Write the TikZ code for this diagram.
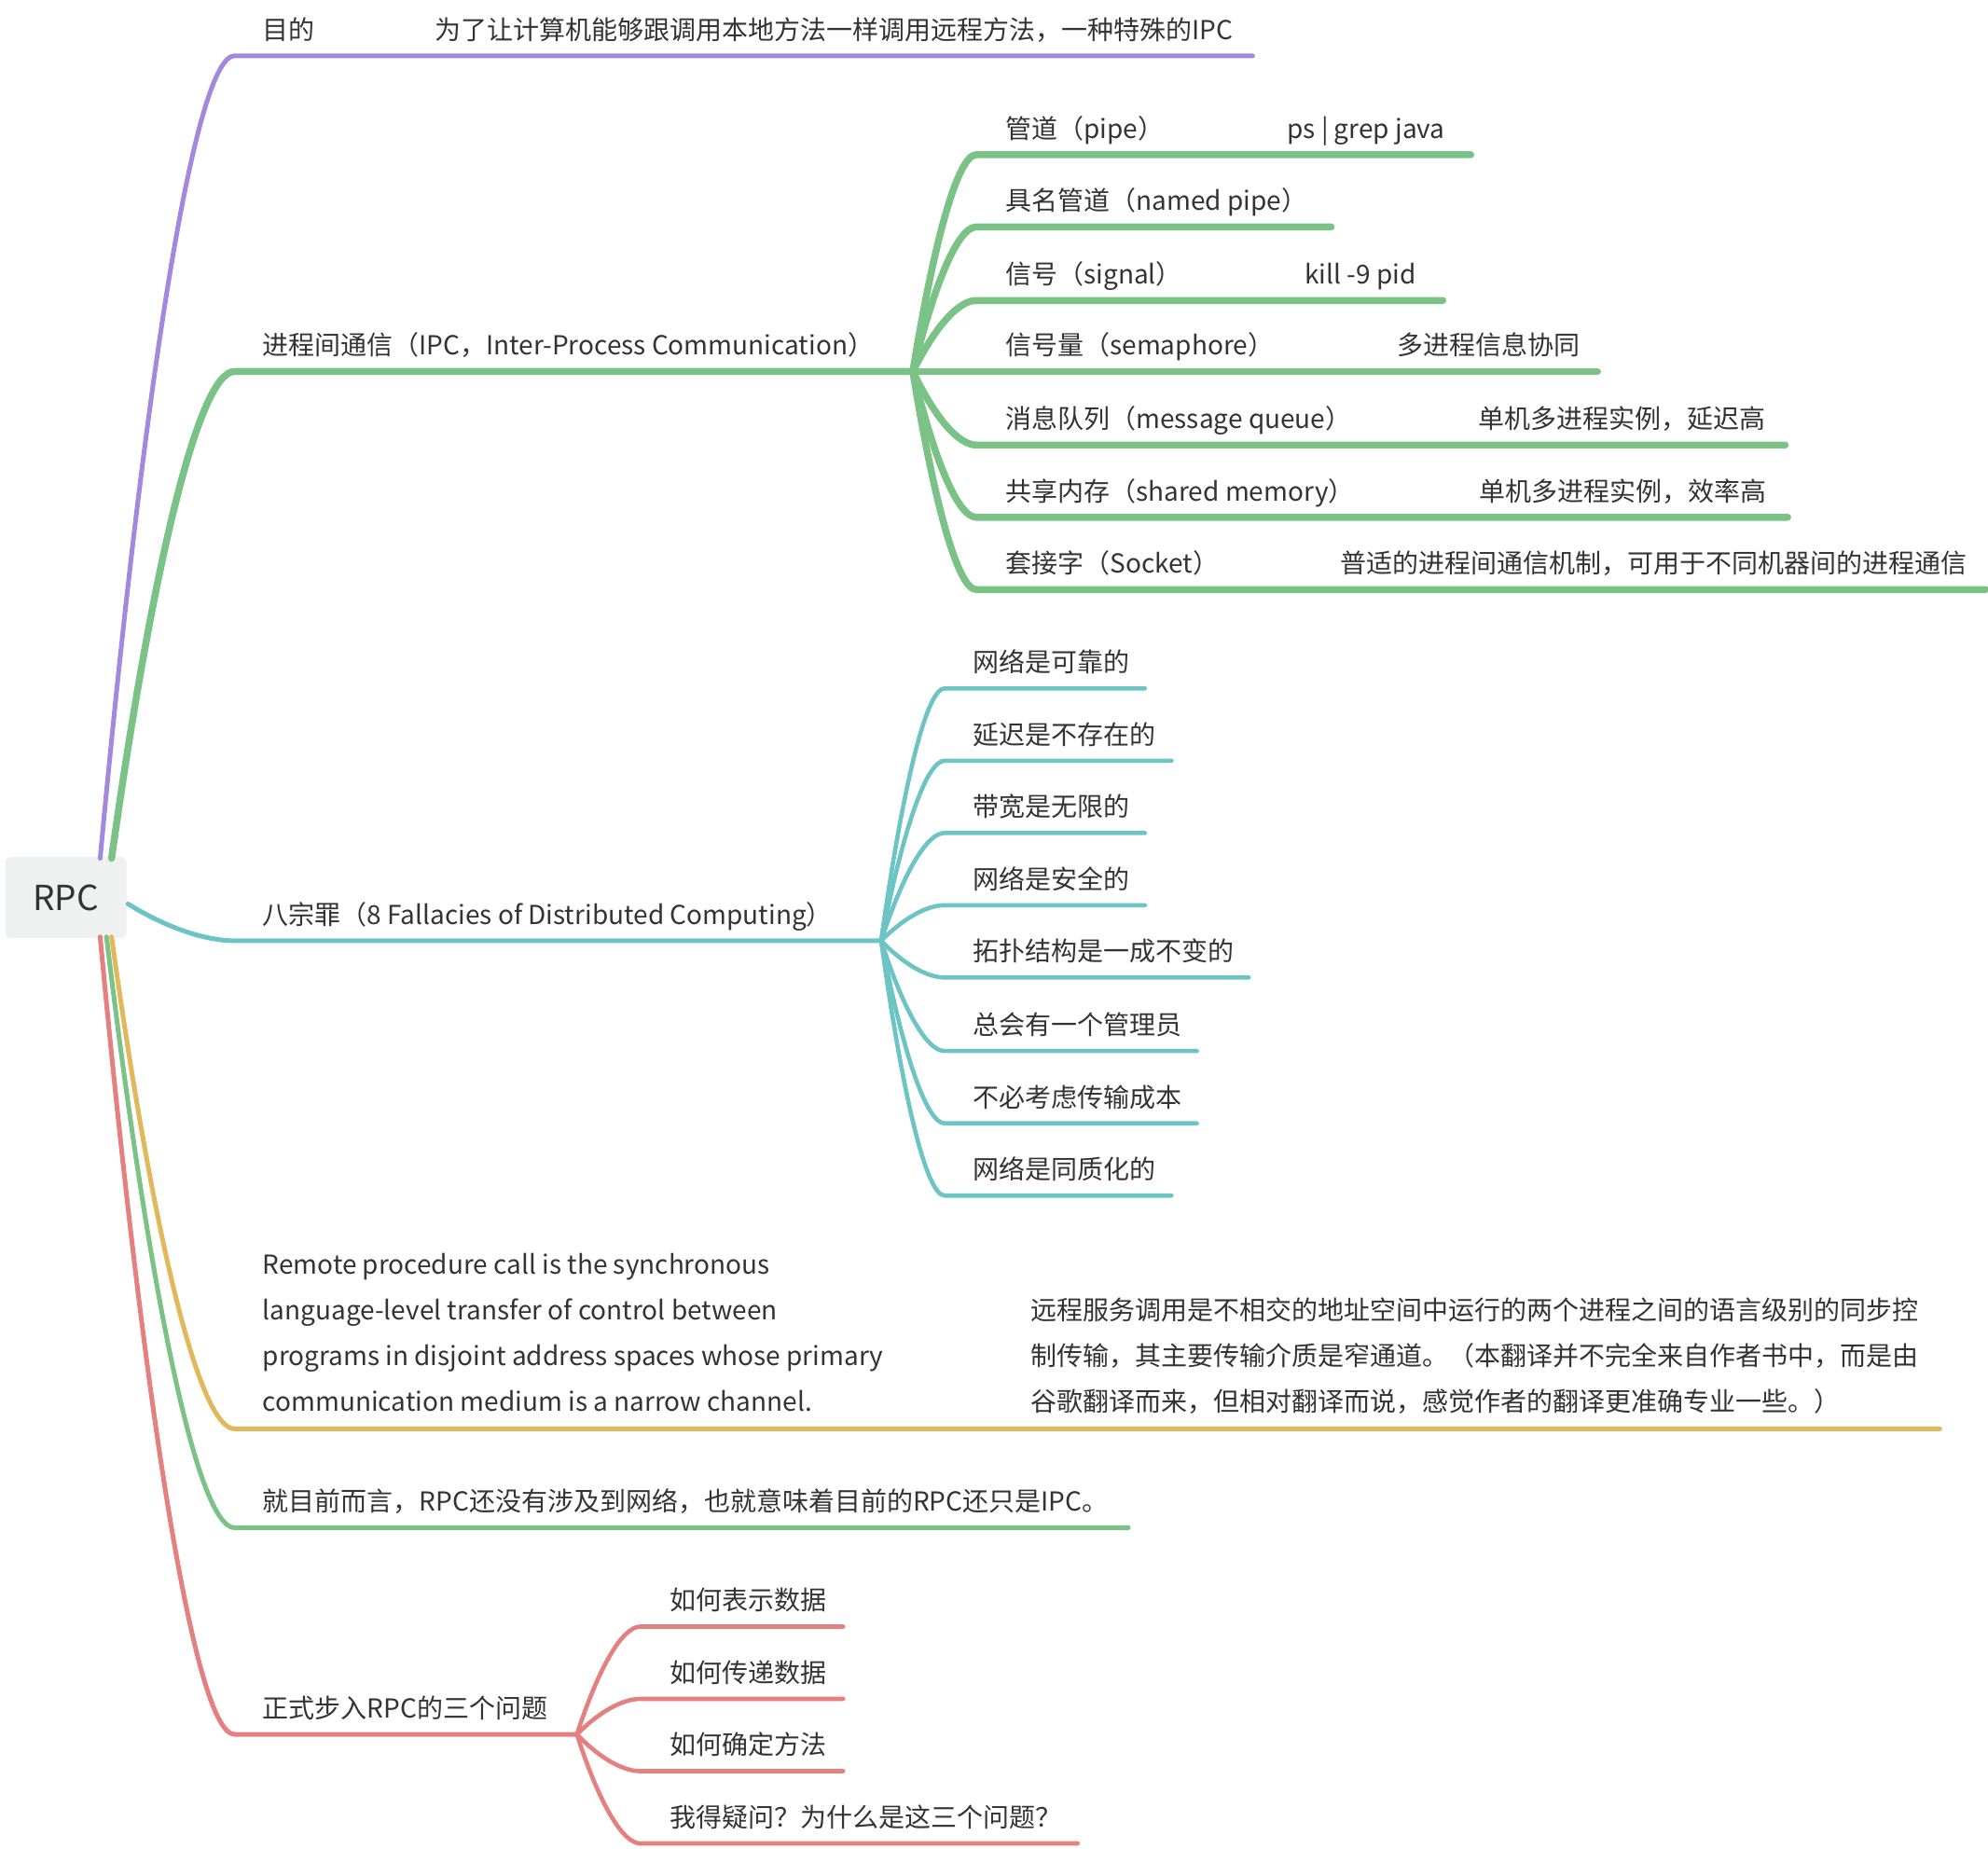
\documentclass[tikz,border=0pt]{standalone}
\usepackage{fontspec}
\setmainfont{Noto Sans CJK SC}
\usetikzlibrary{calc}
\definecolor{textgray}{RGB}{51,51,51}
\definecolor{rootgray}{RGB}{239,240,240}
\definecolor{goalpurple}{RGB}{164,136,222}
\definecolor{ipcgreen}{RGB}{122,194,134}
\definecolor{fallacyteal}{RGB}{108,196,196}
\definecolor{quotegold}{RGB}{226,184,92}
\definecolor{stepred}{RGB}{228,128,128}
\tikzset{
  root/.style={fill=rootgray, rounded corners=6pt, minimum width=130pt, minimum height=87pt, inner sep=0pt, text=textgray, font=\fontsize{37pt}{42pt}\selectfont},
  topic/.style={anchor=base west, inner sep=0pt, text=textgray},
  link/.style={line cap=round, line join=round, line width=5pt},
  thicklink/.style={line cap=round, line join=round, line width=7.5pt},
  thinlink/.style={line cap=round, line join=round, line width=4.6pt},
  branch/.style={to path={let \p1=(\tikztostart), \p2=(\tikztotarget) in
    .. controls ({\x1+0.35*(\x2-\x1)},{\y1+0.63*(\y2-\y1)}) and ({\x2-0.28*(\x2-\x1)},\y2) .. (\tikztotarget)}},
  every node/.style={font=\fontsize{28pt}{49pt}\selectfont}
}

\begin{document}
\begin{tikzpicture}[x=1.3597pt, y=-1.3597pt]
    \useasboundingbox (0,0) rectangle (1568,1458);
    % root
    \node[root] (rpc) at (52,708) {RPC};
    \coordinate (rpc-t1) at (79,677);
    \coordinate (rpc-t2) at (88,677);
    \coordinate (rpc-r) at (101,713);
    \coordinate (rpc-b1) at (88,739);
    \coordinate (rpc-b2) at (84,739);
    \coordinate (rpc-b3) at (79,739);

    % goal
    \node[topic] (goal) at (207,31) {目的};
    \node[topic] (goal-d) at (343,31) {为了让计算机能够跟调用本地方法一样调用远程方法，一种特殊的IPC};
    \coordinate (goal-l) at (185,44);
    \coordinate (goal-r) at (988,44);
    \draw[link, goalpurple] (rpc-t1) to[branch] (goal-l) -- (goal-r);

    % inter-process communication
    \node[topic] (ipc) at (207,280) {进程间通信（IPC，Inter-Process Communication）};
    \coordinate (ipc-l) at (185,293);
    \coordinate (ipc-j) at (720,293);
    \draw[thicklink, ipcgreen] (rpc-t2) to[branch] (ipc-l) -- (ipc-j);

    \node[topic] (pipe) at (793,109) {管道（pipe）};
    \node[topic] (pipe-d) at (1015,109) {ps | grep java};
    \node[topic] (named) at (793,166) {具名管道（named pipe）};
    \node[topic] (signal) at (793,224) {信号（signal）};
    \node[topic] (signal-d) at (1029,224) {kill -9 pid};
    \node[topic] (sema) at (793,280) {信号量（semaphore）};
    \node[topic] (sema-d) at (1102,280) {多进程信息协同};
    \node[topic] (queue) at (793,338) {消息队列（message queue）};
    \node[topic] (queue-d) at (1166,338) {单机多进程实例，延迟高};
    \node[topic] (shm) at (793,395) {共享内存（shared memory）};
    \node[topic] (shm-d) at (1167,395) {单机多进程实例，效率高};
    \node[topic] (sock) at (793,452) {套接字（Socket）};
    \node[topic] (sock-d) at (1057,452) {普适的进程间通信机制，可用于不同机器间的进程通信};

    \draw[thicklink, ipcgreen] (ipc-j) to[branch] (770,122) -- (1160,122);
    \draw[thicklink, ipcgreen] (ipc-j) to[branch] (770,179) -- (1050,179);
    \draw[thicklink, ipcgreen] (ipc-j) to[branch] (770,237) -- (1138,237);
    \draw[thicklink, ipcgreen] (ipc-j) -- (1260,293);
    \draw[thicklink, ipcgreen] (ipc-j) to[branch] (770,351) -- (1408,351);
    \draw[thicklink, ipcgreen] (ipc-j) to[branch] (770,408) -- (1410,408);
    \draw[thicklink, ipcgreen] (ipc-j) to[branch] (770,465) -- (1566,465);

    % fallacies
    \node[topic] (fall) at (207,729) {八宗罪（8 Fallacies of Distributed Computing）};
    \coordinate (fall-l) at (185,742);
    \coordinate (fall-j) at (695,742);
    \draw[link, fallacyteal] (rpc-r) to[branch] (fall-l) -- (fall-j);

    \node[topic] (f1) at (767,530) {网络是可靠的};
    \node[topic] (f2) at (767,587) {延迟是不存在的};
    \node[topic] (f3) at (767,644) {带宽是无限的};
    \node[topic] (f4) at (767,701) {网络是安全的};
    \node[topic] (f5) at (767,758) {拓扑结构是一成不变的};
    \node[topic] (f6) at (767,816) {总会有一个管理员};
    \node[topic] (f7) at (767,873) {不必考虑传输成本};
    \node[topic] (f8) at (767,930) {网络是同质化的};

    \draw[thinlink, fallacyteal] (fall-j) to[branch] (745,543) -- (903,543);
    \draw[thinlink, fallacyteal] (fall-j) to[branch] (745,600) -- (924,600);
    \draw[thinlink, fallacyteal] (fall-j) to[branch] (745,657) -- (903,657);
    \draw[thinlink, fallacyteal] (fall-j) to[branch] (745,714) -- (903,714);
    \draw[thinlink, fallacyteal] (fall-j) to[branch] (745,771) -- (985,771);
    \draw[thinlink, fallacyteal] (fall-j) to[branch] (745,829) -- (944,829);
    \draw[thinlink, fallacyteal] (fall-j) to[branch] (745,886) -- (944,886);
    \draw[thinlink, fallacyteal] (fall-j) to[branch] (745,943) -- (924,943);

    % definition
    \node[topic, align=left] (quote-en) at (207,1113) {Remote procedure call is the synchronous\\language-level transfer of control between\\programs in disjoint address spaces whose primary\\communication medium is a narrow channel.};
    \node[topic, align=left] (quote-zh) at (813,1113) {远程服务调用是不相交的地址空间中运行的两个进程之间的语言级别的同步控\\制传输，其主要传输介质是窄通道。（本翻译并不完全来自作者书中，而是由\\谷歌翻译而来，但相对翻译而说，感觉作者的翻译更准确专业一些。）};
    \coordinate (quote-l) at (185,1127);
    \coordinate (quote-r) at (1530,1127);
    \draw[link, quotegold] (rpc-b1) to[branch] (quote-l) -- (quote-r);

    % remark
    \node[topic] (now) at (207,1192) {就目前而言，RPC还没有涉及到网络，也就意味着目前的RPC还只是IPC。};
    \coordinate (now-l) at (185,1205);
    \coordinate (now-r) at (890,1205);
    \draw[link, ipcgreen] (rpc-b2) to[branch] (now-l) -- (now-r);

    % three questions
    \node[topic] (steps) at (207,1355) {正式步入RPC的三个问题};
    \coordinate (steps-l) at (185,1368);
    \coordinate (steps-j) at (455,1368);
    \draw[link, stepred] (rpc-b3) to[branch] (steps-l) -- (steps-j);

    \node[topic] (s1) at (528,1270) {如何表示数据};
    \node[topic] (s2) at (528,1327) {如何传递数据};
    \node[topic] (s3) at (528,1384) {如何确定方法};
    \node[topic] (s4) at (528,1441) {我得疑问？为什么是这三个问题？};

    \draw[thinlink, stepred] (steps-j) to[branch] (505,1283) -- (665,1283);
    \draw[thinlink, stepred] (steps-j) to[branch] (505,1340) -- (665,1340);
    \draw[thinlink, stepred] (steps-j) to[branch] (505,1397) -- (665,1397);
    \draw[thinlink, stepred] (steps-j) to[branch] (505,1454) -- (850,1454);
\end{tikzpicture}
\end{document}
